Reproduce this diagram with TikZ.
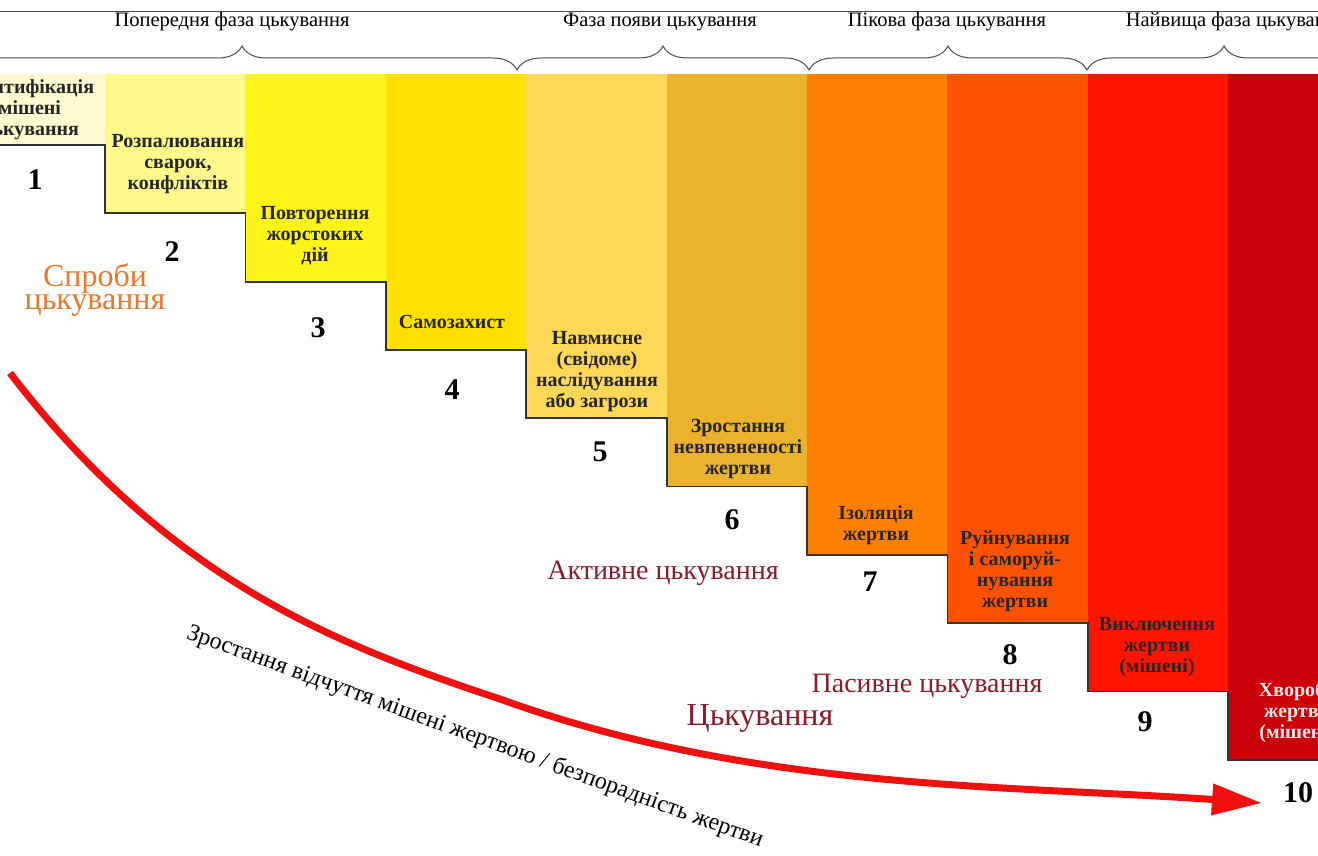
\documentclass[tikz,border=0pt]{standalone}
\usepackage{fontspec}
\setmainfont{Liberation Serif}
\usetikzlibrary{arrows.meta,decorations.pathreplacing}

\definecolor{stepA}{HTML}{FFFAD0}
\definecolor{stepB}{HTML}{FFF98C}
\definecolor{stepC}{HTML}{FFF41A}
\definecolor{stepD}{HTML}{FFE000}
\definecolor{stepE}{HTML}{FDD858}
\definecolor{stepF}{HTML}{EBB22D}
\definecolor{stepG}{HTML}{FF8000}
\definecolor{stepH}{HTML}{FF5200}
\definecolor{stepI}{HTML}{FF1400}
\definecolor{stepJ}{HTML}{CC0008}
\definecolor{wine}{HTML}{8B1A2A}
\definecolor{tryorange}{HTML}{E8782A}
\definecolor{arrowred}{HTML}{F01010}

\begin{document}
\begin{tikzpicture}[x=1pt,y=-1pt]
                \tikzstyle{steptext}=[align=center,inner sep=0pt,text=black!85,font=\bfseries\fontsize{20}{21}\selectfont]
                \tikzstyle{stepnum}=[inner sep=0pt,font=\bfseries\fontsize{30}{30}\selectfont]
                \tikzstyle{phase}=[inner sep=0pt,font=\fontsize{20.5}{20.5}\selectfont]
                \tikzstyle{kind}=[inner sep=0pt,text=wine,font=\fontsize{28}{28}\selectfont]
                \tikzstyle{phasebrace}=[decorate,decoration={brace,amplitude=24pt},draw=black!70,line width=1pt]
                \tikzstyle{bigarrow}=[draw=arrowred,line width=7pt,-{Triangle[length=50pt,width=30pt]}]

                \clip (0,0) rectangle (1318,856);
                \fill[white] (0,0) rectangle (1318,856);

                % the ten steps
                \foreach \c [count=\i from 0] in {stepA,stepB,stepC,stepD,stepE,stepF,stepG,stepH,stepI,stepJ}
                    \fill[\c] ({105+140.4*(\i-1)},74) rectangle ({105+140.4*\i},{145+68.3*\i});
                \draw[line width=1.8pt,black!80] (0,145) -- (105,145)
                    \foreach \i in {1,...,9} { -- ++(0,68.3) -- ++(140.4,0) };

                % phases on top
                \draw[black!70,line width=1pt] (0,12) -- (1318,12);
                \draw[phasebrace] (-33,70) -- (517,70);
                \draw[phasebrace] (517,70) -- (809,70);
                \draw[phasebrace] (809,70) -- (1087,70);
                \draw[phasebrace] (1087,70) -- (1361,70);
                \node[phase] (p1) at (232,22) {Попередня фаза цькування};
                \node[phase] (p2) at (660,22) {Фаза появи цькування};
                \node[phase] (p3) at (947,22) {Пікова фаза цькування};
                \node[phase] (p4) at (1236,22) {Найвища фаза цькування};

                % step texts
                \node[steptext] (t1) at (30,110) {Ідентифікація\\мішені\\цькування};
                \node[steptext] (t2) at (178,164) {Розпалювання\\сварок,\\конфліктів};
                \node[steptext] (t3) at (315,236) {Повторення\\жорстоких\\дій};
                \node[steptext] (t4) at (452,322) {Самозахист};
                \node[steptext] (t5) at (597,372) {Навмисне\\(свідоме)\\наслідування\\або загрози};
                \node[steptext] (t6) at (738,449) {Зростання\\невпевненості\\жертви};
                \node[steptext] (t7) at (876,525) {Ізоляція\\жертви};
                \node[steptext] (t8) at (1015,571) {Руйнування\\і саморуй-\\нування\\жертви};
                \node[steptext] (t9) at (1157,647) {Виключення\\жертви\\(мішені)};
                \node[steptext,text=white!92!red] (t10) at (1297,712) {Хвороба\\жертви\\(мішені)};

                \node[stepnum] (n1) at (35,180) {1};
                \node[stepnum] (n2) at (172,252) {2};
                \node[stepnum] (n3) at (318,328) {3};
                \node[stepnum] (n4) at (452,390) {4};
                \node[stepnum] (n5) at (600,452) {5};
                \node[stepnum] (n6) at (732,520) {6};
                \node[stepnum] (n7) at (870,582) {7};
                \node[stepnum] (n8) at (1010,655) {8};
                \node[stepnum] (n9) at (1145,722) {9};
                \node[stepnum] (n10) at (1298,793) {10};

                \node[kind,text=tryorange,align=center,font=\fontsize{32}{23}\selectfont] (try) at (95,290) {Спроби\\цькування};
                \node[kind] (active) at (663,573) {Активне цькування};
                \node[kind] (passive) at (927,686) {Пасивне цькування};
                \node[kind,font=\fontsize{32}{32}\selectfont] (bully) at (760,718) {Цькування};

                % growing helplessness
                \coordinate (arrowstart) at (10,373);
                \coordinate (arrowmid) at (500,699);
                \coordinate (arrowtip) at (1262,803);
                \draw[bigarrow] (arrowstart) .. controls (168,578) and (330,643) .. (arrowmid)
                    .. controls (754,791) and (1008,785) .. (arrowtip);
                \node[font=\fontsize{24}{24}\selectfont,rotate=-20] (feel) at (475,737) {Зростання відчуття мішені жертвою / безпорадність жертви};
\end{tikzpicture}
\end{document}
